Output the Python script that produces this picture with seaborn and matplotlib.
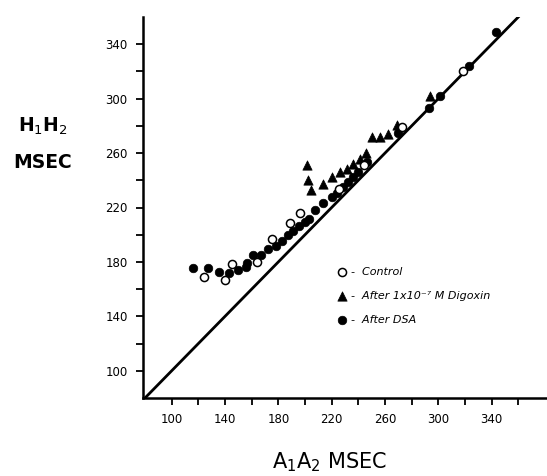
import matplotlib
matplotlib.use("Agg")
import matplotlib.pyplot as plt
import seaborn as sns
import pandas as pd

# Control (open circles)
ctrl_x = [124, 140, 145, 164, 175, 188.5, 196.5, 225.5, 244.5, 272.5, 318.5]
ctrl_y = [169, 167, 178.5, 180, 197, 208.5, 216, 233.5, 251, 279.5, 320.5]

# After 1x10^-7 M Digoxin (triangles)
dig_x = [201.5, 202.5, 204.5, 213.5, 220.5, 226.5, 231.5, 236, 241.3, 245.8, 250, 256.3, 262, 268.8, 294]
dig_y = [251, 240, 233, 237.5, 242.5, 246, 248, 252.3, 256, 260, 272, 272, 273.7, 280.3, 301.7]

# After DSA (filled circles)
dsa_x = [116, 127, 135.5, 143, 149.5, 155.7, 156.3, 160.8, 167, 172, 178, 182.5, 187.5, 191,
         195.7, 200, 203, 207.5, 213.7, 220, 223.7, 228.7, 232.5, 236.3, 240, 246.3, 270, 293,
         301.5, 323, 343.5]
dsa_y = [175.7, 175.2, 172.8, 172, 174.4, 176, 179.3, 185.4, 185.4, 189.8, 191.5, 195.1, 200, 203,
         206.6, 209, 211.7, 218.2, 223.1, 228, 230.4, 234.8, 238.9, 242.6, 246.2, 253.5, 274.7, 293.2,
         302.2, 324, 349]

line_x = [80, 362]
line_y = [80, 362]

x_ticks = [100, 140, 180, 220, 260, 300, 340]
y_ticks = [100, 140, 180, 220, 260, 300, 340]

labels = ["-  Control", "-  After 1x10\u207b\u2077 M Digoxin", "-  After DSA"]

sns.set_style("ticks")
plt.rcParams["font.family"] = ["DejaVu Sans"]
plt.rcParams["text.color"] = "black"
plt.rcParams["axes.labelcolor"] = "black"
plt.rcParams["xtick.color"] = "black"
plt.rcParams["ytick.color"] = "black"
plt.rcParams["axes.edgecolor"] = "black"

fig = plt.figure(figsize=(5.47, 4.76), dpi=100)
ax = fig.add_axes([143 / 547, 1 - 398 / 476, 404 / 547, 381 / 476])

df_line = pd.DataFrame({"x": line_x, "y": line_y})
sns.lineplot(data=df_line, x="x", y="y", ax=ax, color="black", linewidth=2.0)

df_c = pd.DataFrame({"x": ctrl_x, "y": ctrl_y})
df_d = pd.DataFrame({"x": dig_x, "y": dig_y})
df_s = pd.DataFrame({"x": dsa_x, "y": dsa_y})

sns.scatterplot(data=df_s, x="x", y="y", ax=ax, marker="o", s=38, color="black",
                edgecolor="black", linewidth=0.5, label=labels[2], zorder=3)
sns.scatterplot(data=df_d, x="x", y="y", ax=ax, marker="^", s=45, color="black",
                edgecolor="black", linewidth=0.5, label=labels[1], zorder=3)
sns.scatterplot(data=df_c, x="x", y="y", ax=ax, marker="o", s=34, facecolor="white",
                edgecolor="black", linewidth=1.1, label=labels[0], zorder=4)

ax.set_xlim(78.5, 381.5)
ax.set_ylim(80, 360)
ax.set_xticks(list(range(100, 361, 20)))
ax.set_xticklabels([str(v) if v in x_ticks else "" for v in range(100, 361, 20)])
ax.set_yticks(list(range(100, 341, 20)))
ax.set_yticklabels([str(v) if v in y_ticks else "" for v in range(100, 341, 20)])
ax.tick_params(direction="out", length=5, width=1.3, labelsize=8.5, pad=6, colors="black")
for side in ["top", "right"]:
    ax.spines[side].set_visible(False)
for side in ["left", "bottom"]:
    ax.spines[side].set_linewidth(1.8)
    ax.spines[side].set_color("black")
ax.set_xlabel("")
ax.set_ylabel("")

handles, labs = ax.get_legend_handles_labels()
order = [labs.index(l) for l in labels]
leg = ax.legend([handles[i] for i in order], [labs[i] for i in order],
                loc="upper left", bbox_to_anchor=(0.455, 0.37), frameon=False,
                handlelength=1.0, handletextpad=0.3, labelspacing=1.25,
                prop={"style": "italic", "size": 8})
for t in leg.get_texts():
    t.set_color("black")

fig.text(330 / 547, 1 - 462 / 476, "A$_1$A$_2$ MSEC", ha="center", va="center", fontsize=15,
         color="black")
fig.text(43 / 547, 1 - 126 / 476, "H$_1$H$_2$", ha="center", va="center", fontsize=13.5,
         fontweight="bold", color="black")
fig.text(43 / 547, 1 - 162 / 476, "MSEC", ha="center", va="center", fontsize=13.5,
         fontweight="bold", color="black")

fig.savefig("out.png", dpi=100)
